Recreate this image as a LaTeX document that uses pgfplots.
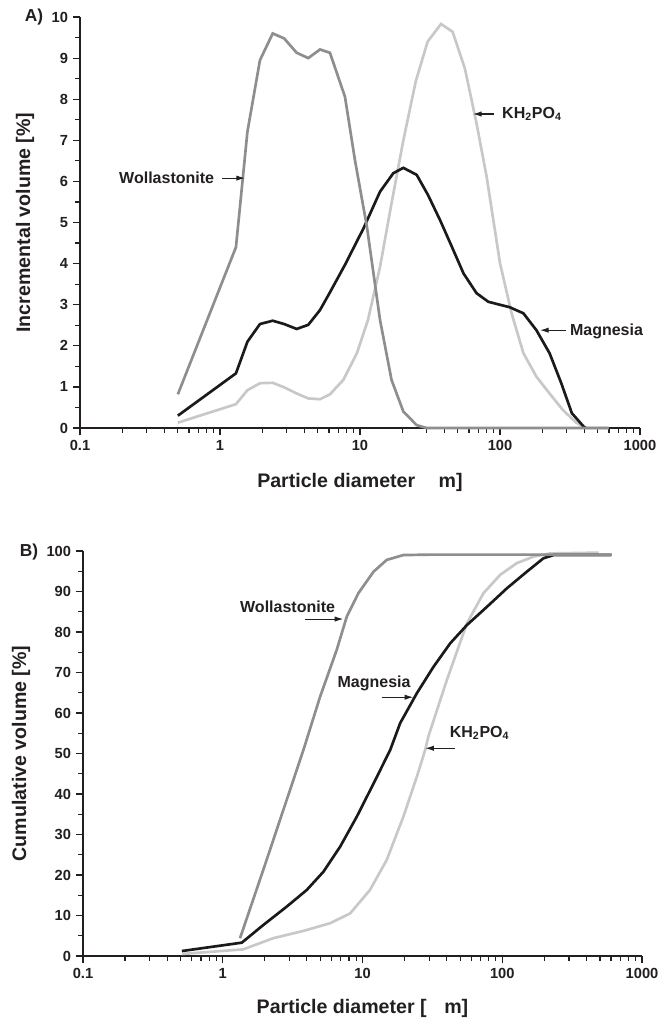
\documentclass[border=0pt]{standalone}
\usepackage{pgfplots}
\pgfplotsset{compat=1.18}
\usepackage{fontspec}
\setmainfont{Liberation Sans}
\usetikzlibrary{arrows.meta}

\definecolor{wollCol}{HTML}{8E8E8E}
\definecolor{kdpCol}{HTML}{C8C8C8}
\definecolor{magCol}{HTML}{1A1A1A}
\definecolor{txtCol}{HTML}{231F20}

\pgfplotsset{
    every axis/.append style={
        scale only axis,
        xmode=log, xmin=0.1, xmax=1000,
        xtick={0.1,1,10,100,1000}, xticklabels={0.1,1,10,100,1000},
        minor xtick={0.2,0.3,0.4,0.5,0.6,0.7,0.8,0.9,2,3,4,5,6,7,8,9,20,30,40,50,60,70,80,90,200,300,400,500,600,700,800,900},
        axis x line*=bottom, axis y line*=left,
        axis line style={line width=1.1pt, draw=txtCol},
        xtick pos=bottom, ytick pos=left,
        tick align=outside,
        every tick/.style={line width=0.9pt, draw=txtCol},
        major tick length=5.5pt, minor tick length=3.5pt,
        ymin=0,
        /pgf/number format/assume math mode=true,
        tick label style={font=\fontsize{11}{13}\selectfont\bfseries, text=txtCol},
        label style={font=\fontsize{14.7}{17}\selectfont\bfseries, text=txtCol},
        clip=false,
    },
}
\tikzset{
    annot/.style={font=\fontsize{12}{14}\selectfont\bfseries, text=txtCol},
    arrw/.style={-{Latex[length=6.5pt,width=4pt]}, line width=0.8pt, draw=txtCol},
}

\begin{document}
\begin{tikzpicture}
\useasboundingbox (0,0) rectangle (495pt,-768.75pt);

% ---------- A) incremental ----------
\begin{axis}[at={(60pt,-321pt)}, anchor=south west,
    width=420pt, height=308.25pt, ymax=10, ytick={0,1,...,10}, minor ytick={0.5,1.5,...,9.5},
    ylabel={Incremental volume [\%]},
    ylabel style={at={(axis description cs:-0.098,0.5)}, anchor=center},
    xlabel={Particle diameter\hspace{1.2em}m]},
    xlabel style={at={(axis description cs:0.5,0)}, anchor=center, yshift=-40.5pt},
]
\addplot[kdpCol, line width=2pt] coordinates {(0.5,0.13)(1.30,0.58)(1.57,0.92)(1.93,1.09)(2.38,1.10)(2.87,0.99)(3.53,0.84)(4.27,0.72)(5.18,0.70)(6.1,0.82)(7.6,1.17)(9.5,1.82)(11.4,2.63)(13.9,3.92)(16.8,5.47)(20.4,7.0)(25.0,8.43)(30.4,9.40)(37.9,9.83)(45.9,9.64)(56.1,8.75)(68,7.41)(80.3,6.11)(100,4.01)(121,2.79)(147,1.82)(182,1.25)(226,0.84)(281,0.44)(350,0.13)(414,0)(580,0)};
\addplot[magCol, line width=2pt] coordinates {(0.5,0.30)(1.30,1.33)(1.57,2.10)(1.93,2.53)(2.38,2.61)(2.87,2.53)(3.53,2.41)(4.27,2.51)(5.18,2.87)(6.1,3.30)(7.81,3.97)(10.6,4.86)(13.9,5.75)(17.3,6.20)(20.4,6.33)(25.4,6.16)(30.6,5.67)(37.3,5.06)(45.3,4.41)(54.9,3.76)(68,3.28)(82.6,3.07)(117,2.94)(147,2.79)(182,2.38)(226,1.82)(274,1.09)(326,0.36)(397,0.03)(410,0)};
\addplot[wollCol, line width=2pt] coordinates {(0.5,0.82)(1.30,4.40)(1.57,7.21)(1.93,8.95)(2.38,9.60)(2.87,9.48)(3.53,9.13)(4.27,9.0)(5.18,9.21)(6.1,9.13)(7.81,8.06)(9.2,6.52)(11.2,4.90)(13.9,2.63)(16.8,1.17)(20.4,0.40)(25.4,0.07)(29.9,0.0)(600,0.0)};
\node[annot, anchor=east] at (axis cs:0.98,6.08) {Wollastonite};
\draw[arrw] (axis cs:1.03,6.08) -- (axis cs:1.51,6.08);
\node[annot, anchor=west] at (axis cs:96,7.64) {KH\textsubscript{2}PO\textsubscript{4}};
\draw[arrw] (axis cs:90.6,7.64) -- (axis cs:64.1,7.64);
\node[annot, anchor=west] at (axis cs:293,2.34) {Magnesia};
\draw[arrw] (axis cs:296,2.38) -- (axis cs:193,2.38);
\end{axis}
\node[font=\fontsize{13}{15}\selectfont\bfseries, text=txtCol] at (25.5pt,-12.5pt) {A)};

% ---------- B) cumulative ----------
\begin{axis}[at={(62.25pt,-717pt)}, anchor=south west,
    width=419.25pt, height=303.75pt, ymax=100, ytick={0,10,...,100}, minor ytick={5,15,...,95},
    ylabel={Cumulative volume [\%]},
    ylabel style={at={(axis description cs:-0.111,0.5)}, anchor=center},
    xlabel={Particle diameter [\hspace{0.9em}m]},
    xlabel style={at={(axis description cs:0.5,0)}, anchor=center, yshift=-39pt},
]
\addplot[kdpCol, line width=2pt] coordinates {(0.51,0.5)(1.40,1.64)(2.30,4.4)(3.78,6.2)(5.86,8.1)(8.15,10.5)(11.3,16.3)(14.9,23.7)(19.6,34.4)(24.5,44.3)(28.1,50.9)(29.6,54.2)(40.1,68.1)(55.8,82.1)(73.4,89.6)(96.6,94.1)(127,97.0)(167,98.6)(220,99.4)(489,99.6)};
\addplot[magCol, line width=2pt] coordinates {(0.51,1.23)(1.37,3.3)(1.95,7.65)(2.87,12.2)(3.99,16.3)(5.25,20.8)(6.92,27.0)(9.10,34.4)(12.0,42.6)(15.8,50.9)(18.6,57.5)(24.5,64.9)(32.2,71.4)(42.4,77.2)(55.8,81.7)(77.6,86.2)(108,90.8)(150,94.9)(197,98.2)(233,99.0)(600,99.0)};
\addplot[wollCol, line width=2pt] coordinates {(1.33,4.4)(2.0,22.4)(3.78,50.9)(4.97,64.0)(6.54,75.6)(7.72,83.8)(9.35,89.6)(12.0,94.9)(14.9,97.8)(19.6,99.0)(30,99.1)(608,99.1)};
\node[annot] at (axis cs:2.91,86.2) {Wollastonite};
\draw[arrw] (axis cs:3.88,83.2) -- (axis cs:7.29,83.2);
\node[annot] at (axis cs:12.1,67.4) {Magnesia};
\draw[arrw] (axis cs:13.7,63.9) -- (axis cs:23.1,63.9);
\node[annot, anchor=west] at (axis cs:39,55.1) {KH\textsubscript{2}PO\textsubscript{4}};
\draw[arrw] (axis cs:46,51.3) -- (axis cs:28.1,51.3);
\end{axis}
\node[font=\fontsize{13}{15}\selectfont\bfseries, text=txtCol] at (21.75pt,-414pt) {B)};
\end{tikzpicture}
\end{document}
